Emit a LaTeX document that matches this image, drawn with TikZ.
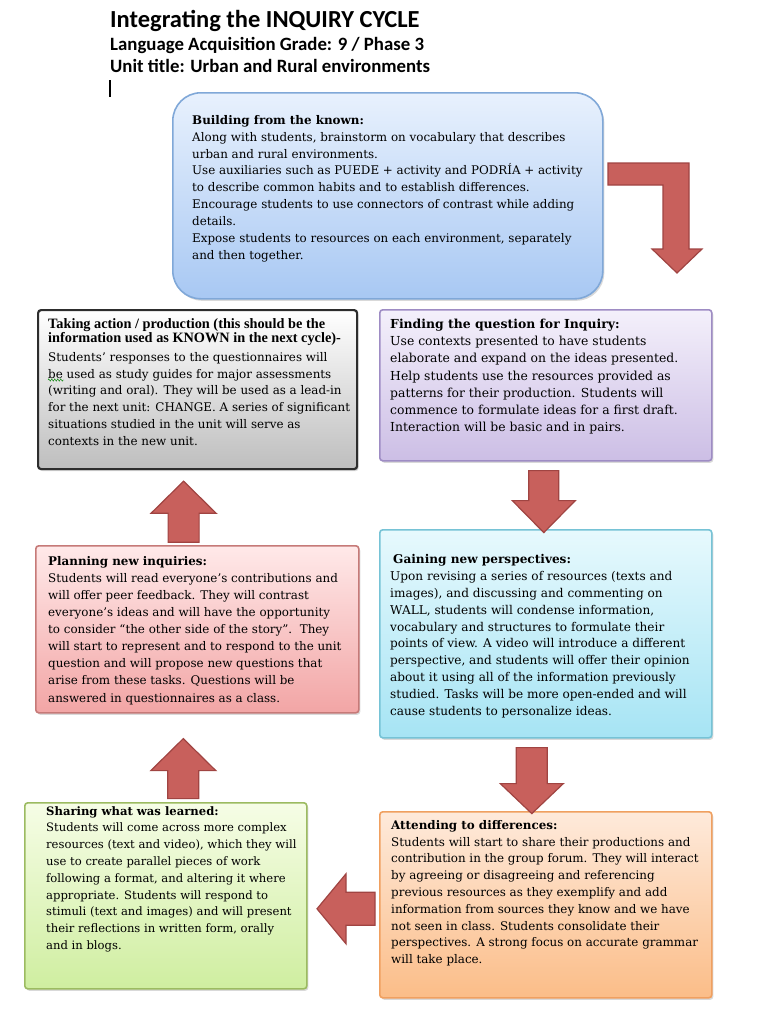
\documentclass[tikz,border=0pt]{standalone}
\usepackage{fontspec}
\setmainfont{DejaVu Serif}
\newfontfamily\titlefont{Carlito}
\newfontfamily\timesfont{Liberation Serif}
\usetikzlibrary{calc,shadows,decorations.pathmorphing}

\definecolor{arrowred}{RGB}{200,96,92}
\definecolor{arrowdark}{RGB}{160,68,66}

\tikzset{
  stagebox/.style={anchor=north west, inner sep=0pt, line width=1.6bp, rounded corners=3bp,
    drop shadow={shadow xshift=1.5bp, shadow yshift=-2bp, opacity=0.3}},
  stagetext/.style={anchor=north west, inner sep=0pt, align=left,
    font=\fontsize{11.9bp}{17bp}\selectfont},
  blockarrow/.style={fill=arrowred, draw=arrowdark, line width=1.2bp, line join=miter},
}

\begin{document}
\begin{tikzpicture}[x=1bp, y=-1bp]
\useasboundingbox (0,0) rectangle (766,1022);

% title lines
\node[anchor=base west, inner sep=0pt, font=\titlefont\bfseries\fontsize{24.5bp}{28bp}\selectfont] (title) at (110,27) {Integrating the INQUIRY CYCLE};
\node[anchor=base west, inner sep=0pt, font=\titlefont\bfseries\fontsize{18.8bp}{22bp}\selectfont] (grade) at (110,50) {Language Acquisition Grade: 9 / Phase 3};
\node[anchor=base west, inner sep=0pt, font=\titlefont\bfseries\fontsize{18.8bp}{22bp}\selectfont] (unit) at (110,72) {Unit title: Urban and Rural environments};
\draw[line width=1.3bp] (110,80) -- (110,97);

% the seven stages
\node[stagebox, rounded corners=28bp, draw={rgb,255:red,128;green,168;blue,216}, top color={rgb,255:red,232;green,241;blue,253}, bottom color={rgb,255:red,168;green,200;blue,243}, minimum width=430bp, minimum height=206bp] (build) at (172,92) {};
\node[stagebox, line width=2.2bp, draw={rgb,255:red,45;green,45;blue,45}, top color=white, bottom color={rgb,255:red,190;green,190;blue,190}, minimum width=319bp, minimum height=159bp] (take) at (37,309) {};
\node[stagebox, draw={rgb,255:red,158;green,140;blue,196}, top color={rgb,255:red,244;green,240;blue,251}, bottom color={rgb,255:red,204;green,190;blue,229}, minimum width=332bp, minimum height=151bp] (find) at (379,309) {};
\node[stagebox, draw={rgb,255:red,198;green,122;blue,120}, top color={rgb,255:red,255;green,233;blue,233}, bottom color={rgb,255:red,242;green,165;blue,165}, minimum width=323bp, minimum height=167bp] (plan) at (35,545) {};
\node[stagebox, draw={rgb,255:red,118;green,195;blue,214}, top color={rgb,255:red,231;green,249;blue,253}, bottom color={rgb,255:red,166;green,228;blue,244}, minimum width=332bp, minimum height=208bp] (gain) at (379,529) {};
\node[stagebox, draw={rgb,255:red,156;green,187;blue,97}, top color={rgb,255:red,246;green,253;blue,230}, bottom color={rgb,255:red,207;green,238;blue,160}, minimum width=282bp, minimum height=186bp] (share) at (24,802) {};
\node[stagebox, draw={rgb,255:red,240;green,160;blue,96}, top color={rgb,255:red,254;green,234;blue,219}, bottom color={rgb,255:red,251;green,189;blue,136}, minimum width=332bp, minimum height=186bp] (attend) at (379,811) {};

% texts
\node[stagetext, font=\fontsize{11.9bp}{16.9bp}\selectfont] (buildtext) at (192,115) {\textbf{Building from the known:}\\
Along with students, brainstorm on vocabulary that describes\\
urban and rural environments.\\
Use auxiliaries such as PUEDE + activity and PODRÍA + activity\\
to describe common habits and to establish differences.\\
Encourage students to use connectors of contrast while adding\\
details.\\
Expose students to resources on each environment, separately\\
and then together.};

\node[anchor=north west, inner sep=0pt, align=left, font=\timesfont\bfseries\fontsize{14.3bp}{14.5bp}\selectfont] (takehead) at (48,318) {Taking action / production (this should be the\\
information used as KNOWN in the next cycle)-};
\node[stagetext, font=\fontsize{11.9bp}{16.8bp}\selectfont] (taketext) at (48,352) {Students’ responses to the questionnaires will\\
be used as study guides for major assessments\\
(writing and oral). They will be used as a lead-in\\
for the next unit: CHANGE. A series of significant\\
situations studied in the unit will serve as\\
contexts in the new unit.};
\draw[green!50!black, decorate, decoration={zigzag, segment length=3bp, amplitude=1.2bp}] (48,380) -- (64,380);

\node[stagetext, font=\fontsize{12.4bp}{17.3bp}\selectfont] (findtext) at (390,318.5) {\textbf{Finding the question for Inquiry:}\\
Use contexts presented to have students\\
elaborate and expand on the ideas presented.\\
Help students use the resources provided as\\
patterns for their production. Students will\\
commence to formulate ideas for a first draft.\\
Interaction will be basic and in pairs.};

\node[stagetext, font=\fontsize{11.9bp}{17.1bp}\selectfont] (plantext) at (48,556) {\textbf{Planning new inquiries:}\\
Students will read everyone’s contributions and\\
will offer peer feedback. They will contrast\\
everyone’s ideas and will have the opportunity\\
to consider “the other side of the story”.\ \ They\\
will start to represent and to respond to the unit\\
question and will propose new questions that\\
arise from these tasks. Questions will be\\
answered in questionnaires as a class.};

\node[stagetext, font=\fontsize{12.1bp}{16.9bp}\selectfont] (gaintext) at (390,554) {\hspace*{3bp}\textbf{Gaining new perspectives:}\\
Upon revising a series of resources (texts and\\
images), and discussing and commenting on\\
WALL, students will condense information,\\
vocabulary and structures to formulate their\\
points of view. A video will introduce a different\\
perspective, and students will offer their opinion\\
about it using all of the information previously\\
studied. Tasks will be more open-ended and will\\
cause students to personalize ideas.};

\node[stagetext, font=\fontsize{11.6bp}{16.8bp}\selectfont] (sharetext) at (46,806) {\textbf{Sharing what was learned:}\\
Students will come across more complex\\
resources (text and video), which they will\\
use to create parallel pieces of work\\
following a format, and altering it where\\
appropriate. Students will respond to\\
stimuli (text and images) and will present\\
their reflections in written form, orally\\
and in blogs.};

\node[stagetext, font=\fontsize{11.9bp}{16.8bp}\selectfont] (attendtext) at (391,820) {\textbf{Attending to differences:}\\
Students will start to share their productions and\\
contribution in the group forum. They will interact\\
by agreeing or disagreeing and referencing\\
previous resources as they exemplify and add\\
information from sources they know and we have\\
not seen in class. Students consolidate their\\
perspectives. A strong focus on accurate grammar\\
will take place.};

% block arrows between stages
\draw[blockarrow] (608,163) -- (689,163) -- (689,249) -- (702,249) -- (677,273) -- (652,249) -- (663,249) -- (663,185) -- (608,185) -- cycle;
\draw[blockarrow] ($(find.south)+(-2,9)$) ++(-15,0) -- ++(0,30) -- ++(-16.5,0) -- ++(31.5,32) -- ++(31.5,-32) -- ++(-16.5,0) -- ++(0,-30) -- cycle;
\draw[blockarrow] ($(gain.south)+(-14,9)$) ++(-15.5,0) -- ++(0,36) -- ++(-16,0) -- ++(31.5,30) -- ++(31.5,-30) -- ++(-16,0) -- ++(0,-36) -- cycle;
\draw[blockarrow] ($(attend.west)+(-4,4)$) ++(0,-16.5) -- ++(-29,0) -- ++(0,-18.5) -- ++(-29,35) -- ++(29,35) -- ++(0,-18.5) -- ++(29,0) -- cycle;
\draw[blockarrow] ($(plan.south)+(-14,25)$) -- ++(32.5,32) -- ++(-17,0) -- ++(0,28) -- ++(-31,0) -- ++(0,-28) -- ++(-17,0) -- cycle;
\draw[blockarrow] ($(take.south)+(-14,11)$) -- ++(32.5,32) -- ++(-17,0) -- ++(0,29) -- ++(-31,0) -- ++(0,-29) -- ++(-17,0) -- cycle;
\end{tikzpicture}
\end{document}
